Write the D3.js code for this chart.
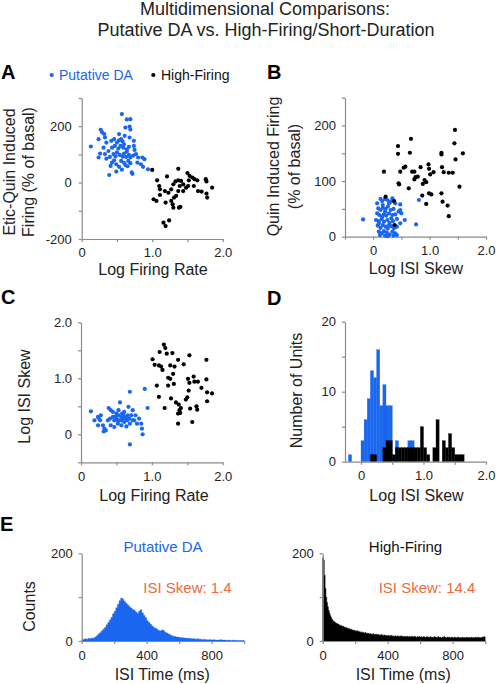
<!DOCTYPE html>
<html><head><meta charset="utf-8">
<script src="https://cdn.jsdelivr.net/npm/d3@7"></script>
<style>
body{margin:0;background:#fff}
svg{display:block}
text{font-family:"Liberation Sans",Arial,sans-serif}
</style>
</head><body>
<svg id="chart" width="496" height="684"></svg>
<script>
// ---------- DATA ----------
const titleLines = ["Multidimensional Comparisons:", "Putative DA vs. High-Firing/Short-Duration"];
const seriesNames = ["Putative DA", "High-Firing"];

// Panel A: [log firing rate, etic-quin induced firing (% of basal)]
const aPutativeDA = [[0.57,243],[0.64,224],[0.69,225],[0.62,195],[0.68,199],[0.69,188],[0.27,187],[0.29,178],[0.32,172],[0.13,128],[0.24,154],[0.33,160],[0.31,124],[0.26,103],[0.24,89],[0.35,85],[0.39,27],[0.42,148],[0.46,154],[0.50,142],[0.53,150],[0.56,154],[0.58,146],[0.60,136],[0.43,124],[0.47,130],[0.52,121],[0.55,130],[0.59,124],[0.64,118],[0.67,127],[0.74,130],[0.75,116],[0.45,101],[0.48,93],[0.50,107],[0.54,98],[0.58,92],[0.60,103],[0.64,110],[0.67,98],[0.69,89],[0.73,96],[0.41,59],[0.43,71],[0.49,65],[0.53,56],[0.56,77],[0.60,70],[0.62,62],[0.65,58],[0.69,69],[0.71,36],[0.72,31],[0.79,71],[0.80,89],[0.86,89],[0.89,83],[0.84,65],[0.87,56],[0.94,47],[0.49,39],[0.57,46],[0.66,77],[0.35,142],[0.38,112],[0.53,172],[0.61,166],[0.40,91],[0.74,148],[0.68,160],[0.46,79],[0.63,91],[0.77,101],[0.33,101]];
const aHighFiring = [[1.00,45],[1.07,8],[1.10,-12],[1.11,-24],[1.02,-59],[1.06,-65],[1.21,22],[1.18,-30],[1.23,-36],[1.19,-71],[1.27,-65],[1.29,-77],[1.30,-89],[1.31,-53],[1.34,-47],[1.38,-89],[1.40,-86],[1.37,49],[1.33,4],[1.37,8],[1.41,6],[1.30,-6],[1.27,-24],[1.37,-30],[1.44,-30],[1.48,-18],[1.51,-12],[1.50,34],[1.53,24],[1.57,18],[1.60,12],[1.52,8],[1.64,8],[1.59,-12],[1.65,-30],[1.76,12],[1.77,4],[1.70,-32],[1.77,-39],[1.78,-53],[1.85,-18],[1.16,-142],[1.19,-154],[1.24,-134],[1.39,-12],[1.11,-44],[1.44,-6]];

// Panel B: [log ISI skew, quin induced firing (% of basal)]
const bPutativeDA = [[-0.18,31],[0.81,66],[0.76,22],[0.48,58],[0.56,30],[0.50,42],[0.48,24],[0.13,68],[0.16,64],[0.21,68],[0.25,66],[0.31,63],[0.34,69],[0.09,51],[0.13,48],[0.17,52],[0.22,50],[0.26,54],[0.31,48],[0.36,50],[0.45,45],[0.07,42],[0.11,39],[0.19,40],[0.23,38],[0.28,42],[0.34,39],[0.39,40],[0.05,30],[0.10,28],[0.15,32],[0.19,27],[0.25,30],[0.29,25],[0.35,28],[0.42,32],[0.08,20],[0.13,16],[0.17,21],[0.22,18],[0.26,15],[0.32,19],[0.37,15],[0.42,18],[0.10,9],[0.15,6],[0.19,10],[0.24,8],[0.29,4],[0.34,9],[0.39,6],[0.12,3],[0.21,2],[0.26,1],[0.36,2],[0.42,3],[0.17,57],[0.28,60],[0.07,60],[0.39,60],[0.48,48],[0.16,36],[0.32,33],[0.21,45],[0.28,21],[0.10,24]];
const bHighFiring = [[1.45,192],[0.67,176],[0.44,163],[0.44,149],[0.65,151],[1.44,168],[1.59,150],[1.21,151],[1.21,148],[1.46,139],[0.19,117],[0.48,117],[0.54,124],[0.57,126],[0.69,117],[0.73,117],[0.75,107],[0.79,108],[0.84,125],[0.98,130],[0.99,122],[1.07,116],[1.01,112],[0.91,102],[0.94,98],[0.88,95],[1.22,125],[1.25,116],[1.34,115],[1.41,115],[1.53,90],[0.45,96],[0.46,94],[0.63,87],[0.87,74],[0.99,78],[1.03,76],[1.21,78],[0.94,59],[1.23,63],[1.32,56],[1.34,37],[0.22,72],[0.37,64],[0.38,21],[0.73,103]];

// Panel C: [log firing rate, log ISI skew]
const cPutativeDA = [[0.14,0.41],[0.24,0.31],[0.25,0.29],[0.28,0.34],[0.24,0.16],[0.31,0.16],[0.33,0.10],[0.32,0.05],[0.39,0.47],[0.42,0.43],[0.38,0.25],[0.41,0.28],[0.45,0.31],[0.47,0.25],[0.47,0.13],[0.50,0.37],[0.50,0.28],[0.53,0.34],[0.54,0.25],[0.55,0.57],[0.57,0.31],[0.58,0.37],[0.59,0.28],[0.61,0.40],[0.61,0.22],[0.64,0.31],[0.65,0.25],[0.67,0.49],[0.68,0.28],[0.69,0.76],[0.69,0.19],[0.71,0.34],[0.73,0.43],[0.75,0.25],[0.77,0.34],[0.79,0.19],[0.82,0.28],[0.85,0.19],[0.86,0.10],[0.87,0.00],[0.90,0.81],[0.94,0.47],[0.69,-0.18],[0.35,0.07],[0.42,0.16],[0.52,0.19],[0.57,0.16],[0.64,0.14],[0.49,0.31],[0.60,0.34],[0.53,0.43],[0.66,0.34],[0.73,0.25],[0.27,0.25],[0.19,0.25],[0.45,0.40],[0.57,0.25],[0.63,0.28],[0.52,0.25]];
const cHighFiring = [[1.17,1.60],[1.19,1.54],[1.11,1.47],[1.21,1.44],[1.29,1.45],[1.01,1.34],[1.04,1.24],[1.10,1.23],[1.13,1.21],[1.15,1.15],[1.26,1.23],[1.32,1.21],[1.37,1.33],[1.45,1.25],[1.53,1.41],[1.77,1.33],[1.30,1.08],[1.23,1.01],[1.26,0.99],[1.31,0.90],[1.23,0.87],[1.07,0.87],[1.51,0.99],[1.59,1.03],[1.60,0.94],[1.65,0.94],[1.70,0.83],[1.77,0.98],[1.78,0.75],[1.85,0.73],[1.78,0.59],[1.10,0.67],[1.27,0.64],[1.34,0.57],[1.38,0.53],[1.41,0.47],[1.39,0.43],[1.37,0.37],[1.40,0.38],[1.52,0.78],[1.50,0.66],[1.48,0.62],[1.64,0.44],[1.54,0.46],[1.18,0.47],[1.37,0.19],[1.57,0.22],[1.63,0.50],[1.53,0.92]];

// Panel D: histogram of log ISI skew (bin starts, counts; bin width 0.05)
const dDABins   = [-0.20,0.00,0.05,0.10,0.15,0.20,0.25,0.30,0.35,0.40,0.45,0.55,0.75,0.80];
const dDACounts = [1,3,6,9,13,12,16,8,11,8,8,3,3,3];
const dHFBins   = [0.15,0.20,0.35,0.40,0.45,0.50,0.55,0.60,0.65,0.70,0.75,0.80,0.85,0.90,0.95,1.00,1.05,1.15,1.20,1.30,1.35,1.40,1.45,1.50,1.55,1.60];
const dHFCounts = [1,1,2,3,3,1,2,2,2,2,2,2,2,2,5,2,1,2,6,3,2,4,2,1,1,1];

// Panel E: ISI histograms (counts per bin)
const eDACounts = [2,4,5,4,6,5,7,6,9,12, 16,19,23,27,31,37,42,48,54,62, 68,76,84,92,98,95,90,86,82,78, 75,72,70,66,63,68,71,64,58,53, 46,42,38,34,31,29,27,24,23,25, 24,20,18,16,14,12,11,10,9,9, 8,8,7,7,6,6,6,5,5,5, 4,5,4,4,3,4,3,3,3,3, 2,3,2,2,2,3,2,2,2,1, 2,1,1,2,1,1,1,1,1,1];
const eHFCounts = [190,185,150,120,100,88,78,70,64,58, 54,50,47,45,44,42,41,40,39,38, 37,35,36,34,33,34,32,31,30,31, 29,28,29,27,26,27,25,24,25,24, 23,22,24,21,22,21,20,21,19,20, 19,18,20,18,17,18,17,16,17,16, 16,15,17,15,14,16,15,14,15,13, 14,13,15,13,12,14,13,12,13,12, 12,13,11,12,13,11,12,10,11,12, 11,10,12,11,10,11,12,10,11,10, 10,11,9,10,11,9,10,10,9,11, 10,9,10,11,9,8,10,9,10,9, 9,10,8,9,10,9,8,9,10,8, 9,8,10,9,8,9,8,10,9,8, 8,9,10,8,9,8,7,9,8,10, 9,8,7,9,8,9,8,7,9,8, 8,7,9,8,7,8,9,8,7,8, 7,8,9,7,8,7,8,9,7,8, 8,7,8,9,7,8,7,8,9,7, 8,9,7,8,7,8,9,8,10,9];
const eDABinMs = 10, eHFBinMs = 5;
const eSkewLabels = ["ISI Skew: 1.4", "ISI Skew: 14.4"];

// tick values & labels
const fracTicks = [0,0.5,1,1.5,2], fracLabels = ["0","","1.0","","2.0"];
const skewTicksB = [-0.5,0,0.5,1,1.5,2], skewLabelsB = ["","0","","1.0","","2.0"];
const aYTicks = [-200,-100,0,100,200,300], aYLabels = ["-200","","0","","200",""];
const bYTicks = [0,50,100,150,200,250], bYLabels = ["0","","100","","200",""];
const cYTicks = [-0.5,0,0.5,1,1.5,2], cYLabels = ["","0","","1.0","","2.0"];
const dYTicks = [0,5,10,15,20], dYLabels = ["0","","10","","20"];
const eXTicks = [0,200,400,600,800,1000], eXLabels = ["0","","400","","800",""];
const eYTicks = [0,100,200], eYLabels = ["0","","200"];

// ---------- STYLE ----------
const BLUE = "#1a66ee", BLACK = "#000000", ORANGE = "#ef6a3a";
const AXIS = "#8a8a8a", TXT = "#222";

const svg = d3.select("#chart");

function drawAxes(x, y, xt, xl, yt, yl, xPad, yPad) {
  const g = svg.append("g");
  const gx = g.append("g").attr("transform", `translate(0,${y.range()[0]})`)
    .call(d3.axisBottom(x).tickValues(xt).tickFormat((d,i)=>xl[i]).tickSize(3).tickSizeOuter(0).tickPadding(xPad));
  const gy = g.append("g").attr("transform", `translate(${x.range()[0]},0)`)
    .call(d3.axisLeft(y).tickValues(yt).tickFormat((d,i)=>yl[i]).tickSize(3).tickSizeOuter(0).tickPadding(yPad));
  [gx, gy].forEach(a => {
    a.select(".domain").attr("stroke", AXIS).attr("stroke-width", 1.2);
    a.selectAll(".tick line").attr("stroke", AXIS).attr("stroke-width", 1.2);
    a.selectAll(".tick text").attr("fill", TXT).attr("font-size", 13)
      .attr("font-family", '"Liberation Sans",Arial,sans-serif');
  });
  return g;
}
function label(txt, x, y, opts = {}) {
  const t = svg.append("text").attr("x", x).attr("y", y).text(txt)
    .attr("font-size", opts.size || 16).attr("fill", opts.fill || TXT)
    .attr("text-anchor", opts.anchor || "middle");
  if (opts.bold) t.attr("font-weight", "bold");
  if (opts.rotate) t.attr("transform", `rotate(-90,${x},${y})`);
  return t;
}
function dots(data, x, y, color) {
  svg.append("g").selectAll("circle").data(data).join("circle")
    .attr("cx", d => x(d[0])).attr("cy", d => y(d[1])).attr("r", 2.1).attr("fill", color);
}

// ---------- TITLE ----------
label(titleLines[0], 265, 15, {size: 18});
label(titleLines[1], 266, 36, {size: 18});

// ---------- PANEL A ----------
{
  const x = d3.scaleLinear().domain([0, 2]).range([81.7, 222.7]);
  const y = d3.scaleLinear().domain([-200, 300]).range([239, 98]);
  drawAxes(x, y, fracTicks, fracLabels, aYTicks, aYLabels, 6, 7);
  dots(aPutativeDA, x, y, BLUE);
  dots(aHighFiring, x, y, BLACK);
  label("A", 1, 79, {size: 20, bold: true, anchor: "start", fill: "#000"});
  svg.append("circle").attr("cx", 51.7).attr("cy", 75).attr("r", 2.1).attr("fill", BLUE);
  label(seriesNames[0], 59, 80, {size: 14, anchor: "start", fill: BLUE});
  svg.append("circle").attr("cx", 153.3).attr("cy", 75).attr("r", 2.1).attr("fill", BLACK);
  label(seriesNames[1], 161, 80, {size: 14, anchor: "start", fill: "#111"});
  label("Etic-Quin Induced", 15, 172, {rotate: true});
  label("Firing (% of basal)", 33.5, 172, {rotate: true});
  label("Log Firing Rate", 153, 275);
}

// ---------- PANEL B ----------
{
  const x = d3.scaleLinear().domain([-0.5, 2]).range([345, 486]);
  const y = d3.scaleLinear().domain([0, 250]).range([236.7, 97.7]);
  drawAxes(x, y, skewTicksB, skewLabelsB, bYTicks, bYLabels, 6, 6);
  dots(bPutativeDA, x, y, BLUE);
  dots(bHighFiring, x, y, BLACK);
  label("B", 267, 79, {size: 20, bold: true, anchor: "start", fill: "#000"});
  label("Quin Induced Firing", 279, 166.5, {rotate: true});
  label("(% of basal)", 300, 166.5, {rotate: true});
  label("Log ISI Skew", 416, 274);
}

// ---------- PANEL C ----------
{
  const x = d3.scaleLinear().domain([0, 2]).range([81, 222.7]);
  const y = d3.scaleLinear().domain([-0.5, 2]).range([462.3, 322.3]);
  drawAxes(x, y, fracTicks, fracLabels, cYTicks, cYLabels, 6, 6);
  dots(cPutativeDA, x, y, BLUE);
  dots(cHighFiring, x, y, BLACK);
  label("C", 1, 304, {size: 20, bold: true, anchor: "start", fill: "#000"});
  label("Log ISI Skew", 30, 396.5, {rotate: true});
  label("Log Firing Rate", 154, 500.7);
}

// ---------- PANEL D ----------
{
  const x = d3.scaleLinear().domain([-0.256, 2]).range([345, 486]);
  const y = d3.scaleLinear().domain([0, 20]).range([461.7, 321.7]);
  const bw = 0.05;
  svg.append("g").selectAll("rect").data(dDABins.map((b,i)=>[b,dDACounts[i]])).join("rect")
    .attr("x", d => x(d[0])).attr("width", d => x(d[0]+bw)-x(d[0]))
    .attr("y", d => y(d[1])).attr("height", d => y(0)-y(d[1])).attr("fill", BLUE)
    .attr("stroke", BLUE).attr("stroke-width", 0.3);
  svg.append("g").selectAll("rect").data(dHFBins.map((b,i)=>[b,dHFCounts[i]])).join("rect")
    .attr("x", d => x(d[0])).attr("width", d => x(d[0]+bw)-x(d[0]))
    .attr("y", d => y(d[1])).attr("height", d => y(0)-y(d[1])).attr("fill", BLACK)
    .attr("stroke", BLACK).attr("stroke-width", 0.3);
  drawAxes(x, y, fracTicks, fracLabels, dYTicks, dYLabels, 6, 6);
  label("D", 267, 305, {size: 20, bold: true, anchor: "start", fill: "#000"});
  label("Number of Units", 302, 390.5, {rotate: true});
  label("Log ISI Skew", 416.5, 500.7);
}

// ---------- PANEL E ----------
function isiPanel(counts, binMs, x0, color, name, nameFill, skewText, nameX, skewX) {
  const x = d3.scaleLinear().domain([0, 1000]).range([x0, x0 + 162.5]);
  const y = d3.scaleLinear().domain([0, 200]).range([641, 553.3]);
  const pts = counts.map((c,i)=>[i*binMs, c]);
  pts.push([counts.length*binMs, counts[counts.length-1]]);
  const area = d3.area().x(d => x(d[0])).y0(y(0)).y1(d => y(d[1])).curve(d3.curveStepAfter);
  svg.append("path").datum(pts).attr("d", area).attr("fill", color).attr("stroke", color).attr("stroke-width", 0.4);
  drawAxes(x, y, eXTicks, eXLabels, eYTicks, eYLabels, 7, 6);
  label(name, nameX, 552, {size: 15, fill: nameFill});
  label(skewText, skewX, 592.5, {size: 15, fill: ORANGE});
  label("ISI Time (ms)", x0 + 80.5, 680);
}
isiPanel(eDACounts, eDABinMs, 81.7, BLUE, seriesNames[0], BLUE, eSkewLabels[0], 163, 187.5);
isiPanel(eHFCounts, eHFBinMs, 322.7, BLACK, seriesNames[1], "#111", eSkewLabels[1], 405.5, 427);
label("E", 0, 530.7, {size: 20, bold: true, anchor: "start", fill: "#000"});
label("Counts", 35, 606.5, {rotate: true});
</script>
</body></html>
